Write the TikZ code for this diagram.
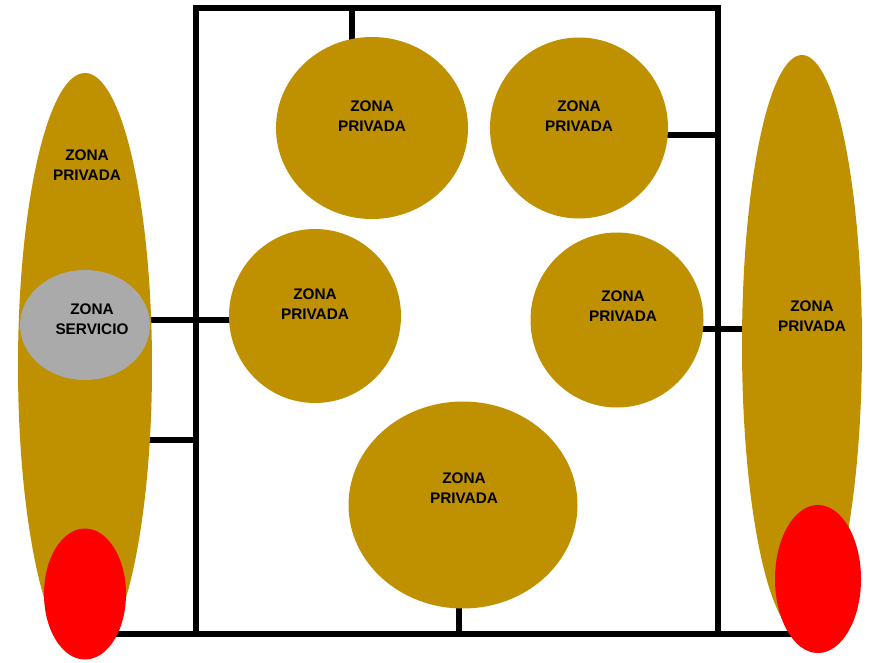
\documentclass[tikz,border=0pt]{standalone}
\usepackage{fontspec}
\setmainfont{Liberation Sans}
\usetikzlibrary{shapes.geometric,backgrounds}
\definecolor{oro}{RGB}{191,144,0}
\definecolor{plata}{RGB}{170,170,170}

\begin{document}
\begin{tikzpicture}[x=0.75pt,y=-0.75pt,
        zona/.style={ellipse,fill=oro,inner sep=0pt},
        servicio/.style={ellipse,fill=plata,inner sep=0pt},
        rojo/.style={ellipse,fill=red,inner sep=0pt},
        texto/.style={align=center,inner sep=0pt,font=\fontsize{11.5}{15}\selectfont\bfseries},
        muro/.style={line width=4pt}]
                \useasboundingbox (0,0) rectangle (885,663);

                % lados
                \node[zona,minimum width=100.5pt,minimum height=439.5pt] (zpi) at (85,366) {};
                \node[servicio,minimum width=97.5pt,minimum height=82.5pt] (zs) at (85,325) {};
                \node[rojo,minimum width=61.5pt,minimum height=98.25pt] (roi) at (85,594) {};
                \node[zona,minimum width=90pt,minimum height=435pt] (zpd) at (802,345) {};
                \node[rojo,minimum width=64.5pt,minimum height=111pt] (rod) at (818,579) {};

                % interior
                \node[zona,minimum width=144pt,minimum height=136.5pt] (tl) at (372,128) {};
                \node[zona,minimum width=133.5pt,minimum height=135.75pt] (tr) at (579,128) {};
                \node[zona,minimum width=129pt,minimum height=130.5pt] (ml) at (315,316) {};
                \node[zona,minimum width=129.75pt,minimum height=131.25pt] (mr) at (617,320) {};
                \node[zona,minimum width=171.75pt,minimum height=155.25pt] (bt) at (463,505) {};

                % textos
                \node[texto] (t1) at (87,165) {ZONA\\PRIVADA};
                \node[texto] (t2) at (92,319) {ZONA\\SERVICIO};
                \node[texto] (t3) at (372,116) {ZONA\\PRIVADA};
                \node[texto] (t4) at (579,116) {ZONA\\PRIVADA};
                \node[texto] (t5) at (315,304) {ZONA\\PRIVADA};
                \node[texto] (t6) at (623,306) {ZONA\\PRIVADA};
                \node[texto] (t7) at (464,488) {ZONA\\PRIVADA};
                \node[texto] (t8) at (812,316) {ZONA\\PRIVADA};

                \begin{scope}[on background layer]
                        \draw[muro] (196,8) rectangle (718,634);
                        \coordinate (w1) at (352,8);
                        \coordinate (w2) at (196,440);
                        \coordinate (w3) at (718,135);
                        \coordinate (w4) at (459,634);
                        \coordinate (m1) at (196,320);
                        \coordinate (m2) at (718,329);
                        \draw[muro] (w1) -- (w1 |- tl);
                        \draw[muro] (w2) -- (w2 -| zpi);
                        \draw[muro] (w3) -- (w3 -| tr);
                        \draw[muro] (w4) -- (w4 |- bt);
                        \draw[muro] (m1 -| zs) -- (m1 -| ml);
                        \draw[muro] (m2 -| mr) -- (m2 -| zpd);
                        \draw[muro] (w4 -| roi) -- (w4 -| rod);
                \end{scope}
            \end{tikzpicture}
\end{document}
